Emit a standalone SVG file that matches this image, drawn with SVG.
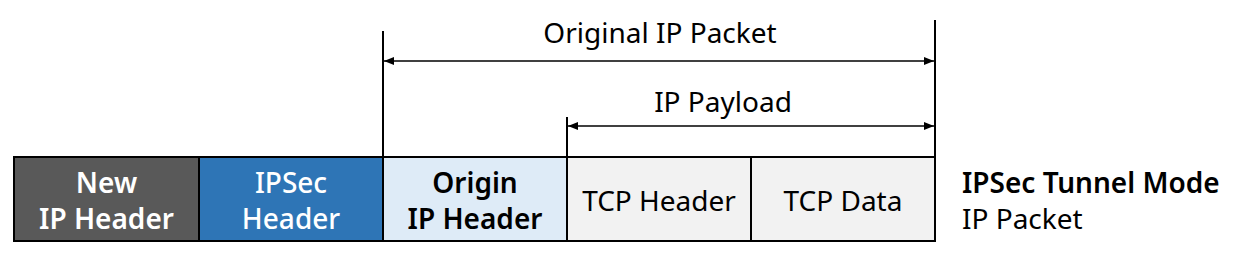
<svg xmlns="http://www.w3.org/2000/svg" width="1238" height="262" viewBox="0 0 1238 262">
<style>
text{font-family:"Noto Sans","Open Sans",sans-serif;font-size:28px;text-anchor:middle;fill:#000}
.b{font-weight:600}
.w{fill:#fff}
.box{stroke:#000;stroke-width:2}
.ln{stroke:#000;stroke-width:2;fill:none}
.ar{stroke:#000;stroke-width:1.3;fill:none}
</style>
<defs>
<marker id="ah" viewBox="0 0 10 8" refX="10" refY="4" markerWidth="10" markerHeight="8" markerUnits="userSpaceOnUse" orient="auto-start-reverse">
<path d="M0,0 L10,4 L0,8 Z" fill="#000"/>
</marker>
</defs>
<g id="n-new-ip"><rect class="box" x="14" y="157" width="185" height="84" fill="#595959"/><text class="b w" x="106.5" y="193">New</text><text class="b w" x="106.5" y="229">IP Header</text></g>
<g id="n-ipsec"><rect class="box" x="199" y="157" width="184" height="84" fill="#2E75B6"/><text class="w" x="291" y="193" style="font-weight:500">IPSec</text><text class="w" x="291" y="229" style="font-weight:500">Header</text></g>
<g id="n-origin"><rect class="box" x="383" y="157" width="184" height="84" fill="#DEEBF7"/><text class="b" x="475" y="193">Origin</text><text class="b" x="475" y="229">IP Header</text></g>
<g id="n-tcp-header"><rect class="box" x="567" y="157" width="184" height="84" fill="#F2F2F2"/><text x="659" y="211">TCP Header</text></g>
<g id="n-tcp-data"><rect class="box" x="751" y="157" width="184" height="84" fill="#F2F2F2"/><text x="843" y="211">TCP Data</text></g>
<g id="connectors">
<line class="ln" x1="383" y1="31" x2="383" y2="157"/>
<line class="ln" x1="567" y1="117" x2="567" y2="157"/>
<line class="ln" x1="935" y1="20" x2="935" y2="157"/>
<line class="ar" x1="384" y1="61" x2="934" y2="61" marker-start="url(#ah)" marker-end="url(#ah)"/>
<line class="ar" x1="568" y1="126" x2="934" y2="126" marker-start="url(#ah)" marker-end="url(#ah)"/>
<text x="660" y="43">Original IP Packet</text>
<text x="723" y="112">IP Payload</text>
</g>
<g id="legend"><text class="b" x="962" y="193" style="text-anchor:start">IPSec Tunnel Mode</text><text x="962" y="229" style="text-anchor:start">IP Packet</text></g>
</svg>
